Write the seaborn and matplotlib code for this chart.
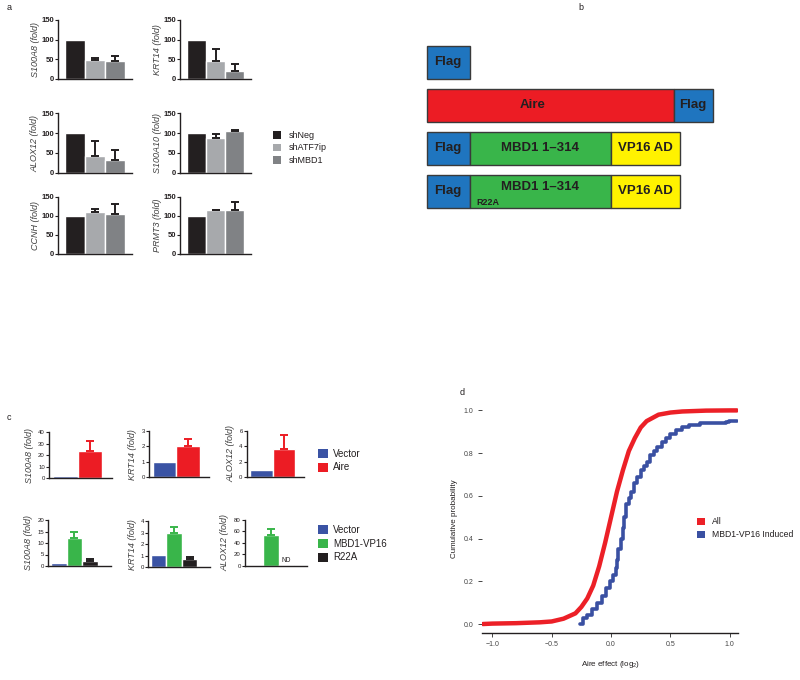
import matplotlib
matplotlib.use('Agg')
import matplotlib.pyplot as plt
from matplotlib.patches import Patch
import seaborn as sns

sns.set_style('ticks')
plt.rcParams['font.family'] = ['Liberation Sans', 'DejaVu Sans']
plt.rcParams['mathtext.default'] = 'regular'

W, H = 800, 680

# ---- panel a: knockdown effect on fold expression
a_groups = ['shNeg', 'shATF7ip', 'shMBD1']
a_colors = ['#231f20', '#a7a9ac', '#808285']
a_genes = ['S100A8', 'KRT14', 'ALOX12', 'S100A10', 'CCNH', 'PRMT3']
s100a8_a = [100, 48, 46]
s100a8_a_err = [0, 4, 11]
krt14_a = [100, 45, 20]
krt14_a_err = [0, 32, 17]
alox12_a = [100, 42, 32]
alox12_a_err = [0, 39, 26]
s100a10_a = [100, 88, 105]
s100a10_a_err = [0, 10, 4]
ccnh_a = [100, 111, 106]
ccnh_a_err = [0, 6, 25]
prmt3_a = [100, 114, 114]
prmt3_a_err = [0, 1, 21]
a_ticks = [0, 50, 100, 150]

# ---- panel b: constructs (segment lengths in arbitrary units)
b_segments = [['Flag'], ['Aire', 'Flag'],
              ['Flag', 'MBD1 1–314', 'VP16 AD'], ['Flag', 'MBD1 1–314', 'VP16 AD']]
b_lengths = [[43], [247, 39], [43, 141, 69], [43, 141, 69]]
b_colors = {'Flag': '#1f75bf', 'Aire': '#ec1c24', 'MBD1 1–314': '#39b54a', 'VP16 AD': '#fff200'}

# ---- panel c: overexpression
c1_groups = ['Vector', 'Aire']
c1_colors = ['#3a53a4', '#ec1c24']
c2_groups = ['Vector', 'MBD1-VP16', 'R22A']
c2_colors = ['#3a53a4', '#39b54a', '#231f20']
c_genes = ['S100A8', 'KRT14', 'ALOX12']
s100a8_c1 = [1.7, 24]
s100a8_c1_err = [0, 8.7]
krt14_c1 = [1.02, 2.0]
krt14_c1_err = [0, 0.48]
alox12_c1 = [0.9, 3.6]
alox12_c1_err = [0, 1.9]
s100a8_c2 = [1.3, 12, 2.2]
s100a8_c2_err = [0, 3, 0.7]
krt14_c2 = [1.05, 3.0, 0.7]
krt14_c2_err = [0, 0.45, 0.2]
alox12_c2 = [0.6, 53, 1.0]
alox12_c2_err = [0, 11, 0]
c1_ticks = [[0, 10, 20, 30, 40], [0, 1, 2, 3], [0, 2, 4, 6]]
c2_ticks = [[0, 5, 10, 15, 20], [0, 1, 2, 3, 4], [0, 20, 40, 60, 80]]

# ---- panel d: cumulative distributions of Aire effect
all_x = [-1.08, -1.0, -0.8, -0.6, -0.5, -0.4, -0.3, -0.25, -0.2, -0.15, -0.1, -0.05,
         0.0, 0.05, 0.1, 0.15, 0.2, 0.25, 0.3, 0.4, 0.5, 0.6, 0.8, 1.0, 1.06]
all_y = [0.0, 0.002, 0.004, 0.008, 0.012, 0.025, 0.05, 0.08, 0.12, 0.18, 0.27, 0.38,
         0.50, 0.62, 0.72, 0.81, 0.87, 0.92, 0.95, 0.98, 0.99, 0.995, 0.999, 1.0, 1.0]
ind_x = [-0.26, -0.24, -0.20, -0.16, -0.12, -0.08, -0.04, -0.01, 0.02, 0.04, 0.05, 0.06,
         0.08, 0.10, 0.11, 0.13, 0.15, 0.17, 0.19, 0.22, 0.25, 0.28, 0.30, 0.33, 0.36,
         0.39, 0.43, 0.46, 0.50, 0.55, 0.60, 0.66, 0.75, 0.85, 0.97, 0.99, 1.06]
ind_y = [0.00, 0.03, 0.04, 0.07, 0.10, 0.13, 0.17, 0.20, 0.23, 0.26, 0.30, 0.35,
         0.40, 0.45, 0.50, 0.56, 0.59, 0.62, 0.66, 0.69, 0.72, 0.74, 0.76, 0.79, 0.81,
         0.83, 0.85, 0.87, 0.89, 0.91, 0.92, 0.93, 0.94, 0.94, 0.945, 0.95, 0.95]

fig = plt.figure(figsize=(W / 100, H / 100), dpi=100)


def px_axes(x0, y0, x1, y1):
    # place an axes using pixel coords measured from the top-left corner
    return fig.add_axes([x0 / W, 1 - y1 / H, (x1 - x0) / W, (y1 - y0) / H])


def bar_panel(rect, gene, groups, vals, errs, colors, ecolors, ticks, xlim,
              fs_tick, fs_lab, bold, labelpad):
    ax = px_axes(*rect)
    sns.barplot(x=groups, y=vals, hue=groups, palette=colors, legend=False,
                width=1.0, saturation=1, errorbar=None, ax=ax)
    for i, e in enumerate(errs):
        if e > 0:
            ax.errorbar(i, vals[i], yerr=[[0], [e]], fmt='none', ecolor=ecolors[i],
                        elinewidth=1.4, capsize=3.2, capthick=1.4, clip_on=False)
    ax.set_ylim(0, ticks[-1])
    ax.set_yticks(ticks)
    ax.set_xlim(*xlim)
    ax.set_xticks([])
    ax.set_xlabel('')
    sns.despine(ax=ax)
    for s in ['left', 'bottom']:
        ax.spines[s].set_linewidth(1.0)
        ax.spines[s].set_color('#231f20')
    ax.tick_params(axis='y', length=2, width=0.8, pad=1, labelsize=fs_tick,
                   colors='#231f20')
    if bold:
        for lbl in ax.get_yticklabels():
            lbl.set_fontweight('bold')
    ax.set_ylabel(f'{gene} (fold)', fontstyle='italic', fontsize=fs_lab,
                  color='#404040', labelpad=labelpad)
    return ax


def square_legend(labels, colors, x, y, fs, sq, spacing, textpad):
    handles = [Patch(facecolor=c, edgecolor='none') for c in colors]
    fig.legend(handles, labels, loc='upper left', bbox_to_anchor=(x / W, 1 - y / H),
               frameon=False, fontsize=fs, handlelength=sq, handleheight=sq,
               handletextpad=textpad, labelspacing=spacing, borderpad=0,
               borderaxespad=0, labelcolor='#231f20')


# panel a
a_vals = [s100a8_a, krt14_a, alox12_a, s100a10_a, ccnh_a, prmt3_a]
a_errs = [s100a8_a_err, krt14_a_err, alox12_a_err, s100a10_a_err, ccnh_a_err, prmt3_a_err]
a_cols = [(58, 132), (180, 251)]
a_rows = [(20, 78.7), (113.3, 172.7), (196.7, 254)]
for k, gene in enumerate(a_genes):
    (x0, x1), (y0, y1) = a_cols[k % 2], a_rows[k // 2]
    bar_panel((x0, y0, x1, y1), gene, a_groups, a_vals[k], a_errs[k], a_colors,
              ['#231f20'] * 3, a_ticks, (-0.85, 2.85), 5.5, 6.5, True, 1)
square_legend(a_groups, a_colors, 272.5, 131, 6.5, 0.92, 0.38, 0.9)

# panel b
axb = px_axes(420, 40.8, 720, 212.7)
for row, (segs, lens) in enumerate(zip(b_segments, b_lengths)):
    start = 0
    for seg, ln in zip(segs, lens):
        axb.barh(row, ln, left=start, height=0.77, color=b_colors[seg],
                 edgecolor='#3a3a3a', linewidth=1.0)
        dy = -0.1 if row == 3 and seg.startswith('MBD1') else 0
        dx = -18 if seg == 'Aire' else 0   # label sits a little left of centre
        axb.text(start + ln / 2 + dx, row + dy, seg, ha='center', va='center',
                 fontsize=9.5, fontweight='bold', color='#231f20')
        if row == 3 and seg.startswith('MBD1'):
            axb.text(start + 7, row + 0.27, 'R22A', ha='left', va='center',
                     fontsize=6.5, fontweight='bold', color='#231f20')
        start += ln
axb.set_xlim(-6.7, 293.3)
axb.set_ylim(3.5, -0.5)
axb.axis('off')

# panel c
c1_vals = [s100a8_c1, krt14_c1, alox12_c1]
c1_errs = [s100a8_c1_err, krt14_c1_err, alox12_c1_err]
c2_vals = [s100a8_c2, krt14_c2, alox12_c2]
c2_errs = [s100a8_c2_err, krt14_c2_err, alox12_c2_err]
c1_rects = [(49, 432.3, 111.7, 478.3), (149, 431, 209, 477.3), (246.7, 430.7, 304, 477.3)]
c2_rects = [(48.3, 520, 111, 566), (148.3, 521, 210, 567.3), (245, 520, 307.3, 565.7)]
for k, gene in enumerate(c_genes):
    bar_panel(c1_rects[k], gene, c1_groups, c1_vals[k], c1_errs[k], c1_colors,
              c1_colors, c1_ticks[k], (-0.65, 1.88), 4.3, 6.5, False, 3)
    ax = bar_panel(c2_rects[k], gene, c2_groups, c2_vals[k], c2_errs[k], c2_colors,
                   c2_colors, c2_ticks[k], (-0.66, 3.32), 4.3, 6.5, False, 3)
    if gene == 'ALOX12':
        ax.text(2, c2_vals[k][2] + 2, 'ND', ha='center', va='bottom', fontsize=4.8,
                color='#231f20')
square_legend(c1_groups, c1_colors, 318.3, 449, 7, 1.03, 0.35, 0.5)
square_legend(c2_groups, c2_colors, 318.3, 525, 7, 1.03, 0.38, 0.5)

# panel d
axd = px_axes(482, 404, 738.3, 633)
sns.lineplot(x=all_x, y=all_y, color='#ec2027', linewidth=3.2, sort=False,
             estimator=None, errorbar=None, ax=axd)
sns.lineplot(x=ind_x, y=ind_y, color='#3a50a2', linewidth=2.6, sort=False,
             estimator=None, errorbar=None, drawstyle='steps-post', ax=axd)
axd.set_xlim(-1.087, 1.072)
axd.set_ylim(-0.042, 1.03)
axd.set_xticks([-1.0, -0.5, 0.0, 0.5, 1.0])
axd.set_yticks([0.0, 0.2, 0.4, 0.6, 0.8, 1.0])
sns.despine(ax=axd, left=True)
axd.spines['bottom'].set_color('#231f20')
axd.spines['bottom'].set_linewidth(1.0)
axd.tick_params(length=3, width=0.7, pad=3, labelsize=5, colors='#444444')
axd.set_xlabel('Aire effect (log$_2$)', fontsize=5.8, color='#231f20', labelpad=8)
axd.set_ylabel('Cumulative probability', fontsize=5.8, color='#231f20', labelpad=4)
square_legend(['All', 'MBD1-VP16 Induced'], ['#ec2027', '#3a50a2'], 696.7, 517.5,
              6.2, 0.95, 0.45, 0.8)

# panel letters
for letter, (x, y) in zip('abcd', [(7, 8), (578, 8), (7, 417), (460, 393)]):
    fig.text(x / W, 1 - y / H, letter, fontsize=6.5, va='center', ha='left',
             color='#231f20')

fig.savefig('out.png', dpi=100)
